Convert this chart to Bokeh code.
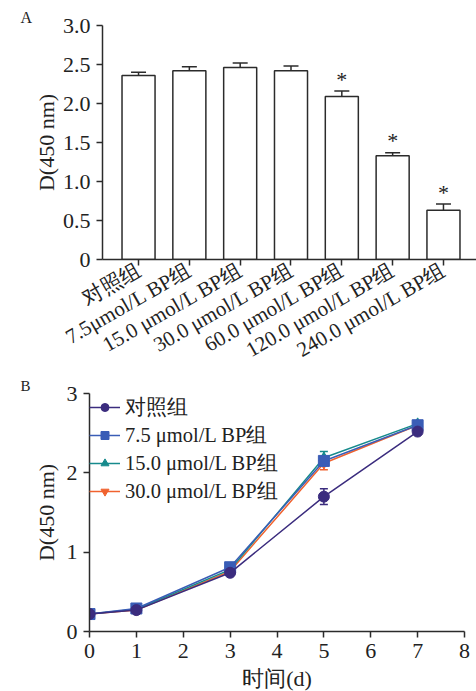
from bokeh.plotting import figure
from bokeh.models import (Range1d, FixedTicker, Whisker, TeeHead, ColumnDataSource,
                          Legend, LegendItem)
from bokeh.core.properties import value
from bokeh.embed import file_html
from bokeh.resources import INLINE

# ---------------- data ----------------
cats = ["对照组", "7.5μmol/L BP组", "15.0 μmol/L BP组", "30.0 μmol/L BP组",
        "60.0 μmol/L BP组", "120.0 μmol/L BP组", "240.0 μmol/L BP组"]
means_a = [2.36, 2.42, 2.46, 2.42, 2.09, 1.33, 0.63]
err_a = [0.04, 0.05, 0.06, 0.06, 0.07, 0.04, 0.08]
sig_a = ["", "", "", "", "*", "*", "*"]

days = [0, 1, 3, 5, 7]
series_names = ["对照组", "7.5 μmol/L BP组", "15.0 μmol/L BP组", "30.0 μmol/L BP组"]
ctrl = [0.22, 0.27, 0.74, 1.70, 2.52]
ctrl_err = [0.01, 0.01, 0.02, 0.10, 0.02]
bp75 = [0.22, 0.29, 0.81, 2.15, 2.60]
bp75_err = [0.01, 0.01, 0.02, 0.05, 0.03]
bp15 = [0.22, 0.28, 0.78, 2.19, 2.62]
bp15_err = [0.01, 0.01, 0.02, 0.08, 0.03]
bp30 = [0.22, 0.27, 0.76, 2.12, 2.60]
bp30_err = [0.01, 0.01, 0.02, 0.08, 0.02]

FONT = "'Liberation Serif', serif"
AX = "#2b2b2b"
TXT = "#222222"


def style_axes(p):
    for ax in (p.xaxis[0], p.yaxis[0]):
        ax.axis_line_color = AX
        ax.axis_line_width = 1.5
        ax.major_tick_line_color = AX
        ax.major_tick_line_width = 1.5
        ax.major_tick_in = 0
        ax.major_tick_out = 6
        ax.minor_tick_line_color = None
        ax.major_label_text_font = FONT
        ax.major_label_text_font_size = "22px"
        ax.major_label_text_color = TXT
        ax.axis_label_text_font = FONT
        ax.axis_label_text_font_size = "22px"
        ax.axis_label_text_font_style = "normal"
        ax.axis_label_text_color = TXT
    p.xgrid.visible = False
    p.ygrid.visible = False
    p.outline_line_color = None


def letter_title(p, text, offset, size):
    p.title.text = text
    p.title.align = "left"
    p.title.offset = offset
    p.title.standoff = 0
    p.title.text_font = FONT
    p.title.text_font_size = size
    p.title.text_font_style = "normal"
    p.title.text_color = TXT


# ---------------- panel A ----------------
pA = figure(frame_width=374, frame_height=234, output_backend="svg", toolbar_location=None,
            x_range=Range1d(-0.709, 6.65), y_range=Range1d(0, 3.0),
            min_border_left=102, min_border_right=0, min_border_top=25, min_border_bottom=100)
style_axes(pA)
letter_title(pA, "A", -82, "16px")
xs = list(range(len(cats)))
srcA = ColumnDataSource(dict(x=xs, top=means_a, upper=[m + e for m, e in zip(means_a, err_a)],
                             sig=sig_a))
pA.add_layout(Whisker(source=srcA, base="x", lower="top", upper="upper",
                      line_color=AX, line_width=1.5,
                      upper_head=TeeHead(size=15, line_color=AX, line_width=1.5),
                      lower_head=None))
pA.vbar(x="x", top="top", width=0.65, bottom=0, source=srcA, fill_color="white",
        line_color=AX, line_width=1.5)
pA.text(x="x", y="upper", text="sig", source=srcA, text_align="center", text_baseline="middle",
        y_offset=-12, text_font=value(FONT), text_font_size="22px", text_color=TXT)
pA.xaxis.ticker = FixedTicker(ticks=xs)
pA.xaxis.major_label_overrides = {i: c for i, c in zip(xs, cats)}
pA.xaxis.major_label_orientation = 0.52
pA.xaxis.major_label_text_font_size = "21px"
pA.xaxis.major_label_standoff = 3
pA.yaxis.ticker = FixedTicker(ticks=[0, 0.5, 1.0, 1.5, 2.0, 2.5, 3.0])
pA.yaxis.major_label_overrides = {0: "0", 0.5: "0.5", 1: "1.0", 1.5: "1.5", 2: "2.0",
                                  2.5: "2.5", 3: "3.0"}
pA.yaxis.major_label_standoff = 6
pA.yaxis.axis_label = "D(450 nm)"
pA.yaxis.axis_label_standoff = 1

# ---------------- panel B ----------------
pB = figure(frame_width=375, frame_height=238, output_backend="svg", toolbar_location=None,
            x_range=Range1d(0, 8), y_range=Range1d(0, 3),
            min_border_left=89, min_border_right=12, min_border_top=16, min_border_bottom=60)
style_axes(pB)
letter_title(pB, "B", -69, "15px")
pB.xaxis.ticker = FixedTicker(ticks=list(range(0, 9)))
pB.yaxis.ticker = FixedTicker(ticks=[0, 1, 2, 3])
pB.xaxis.major_label_standoff = 6
pB.xaxis.axis_label = "时间(d)"
pB.xaxis.axis_label_standoff = 5
pB.yaxis.major_label_standoff = 6
pB.yaxis.axis_label = "D(450 nm)"
pB.yaxis.axis_label_standoff = 5

colors = ["#3b2c7e", "#3a5db6", "#168a8c", "#f0622e"]
markers = ["circle", "square", "triangle", "inverted_triangle"]
sizes = [11, 11, 10, 10]
vals = [ctrl, bp75, bp15, bp30]
errs = [ctrl_err, bp75_err, bp15_err, bp30_err]

items = {}
for idx in [3, 2, 1, 0]:
    src = ColumnDataSource(dict(x=days, y=vals[idx],
                                lo=[v - e for v, e in zip(vals[idx], errs[idx])],
                                hi=[v + e for v, e in zip(vals[idx], errs[idx])]))
    pB.add_layout(Whisker(source=src, base="x", lower="lo", upper="hi",
                          line_color=colors[idx], line_width=1.5,
                          upper_head=TeeHead(size=8, line_color=colors[idx], line_width=1.5),
                          lower_head=TeeHead(size=8, line_color=colors[idx], line_width=1.5)))
    r1 = pB.line("x", "y", source=src, line_color=colors[idx], line_width=1.5)
    r2 = pB.scatter("x", "y", source=src, marker=markers[idx], size=sizes[idx],
                    fill_color=colors[idx], line_color=colors[idx])
    items[idx] = [r1, r2]

legend = Legend(items=[LegendItem(label=series_names[i], renderers=items[i]) for i in range(4)],
                location="top_left", margin=0, padding=3, spacing=0,
                glyph_width=31, glyph_height=20, label_standoff=5,
                label_text_font=FONT, label_text_font_size="20.5px", label_text_color=TXT,
                background_fill_alpha=0, border_line_color=None)
pB.add_layout(legend)

open("out.html", "w").write(file_html([pA, pB], INLINE))
